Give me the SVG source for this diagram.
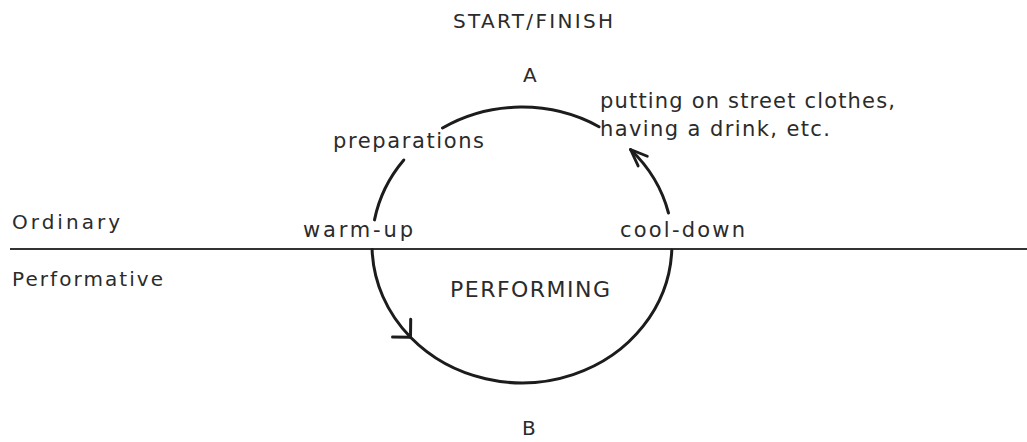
<svg xmlns="http://www.w3.org/2000/svg" width="1027" height="442" viewBox="0 0 1027 442">
<style>
.lbl{font-family:"DejaVu Sans","Liberation Sans",sans-serif;fill:#2b2b2b;font-size:21px}
.arc{fill:none;stroke:#1c1c1c;stroke-width:3;stroke-linecap:round}
.rule{stroke:#333;stroke-width:2}
</style>
<defs>
<marker id="vOpen" markerUnits="userSpaceOnUse" markerWidth="40" markerHeight="40" viewBox="-20 -20 40 40" refX="0" refY="0" orient="auto">
<path d="M -12.7 -12.7 L 0 0 L -12.7 12.7" fill="none" stroke="#1c1c1c" stroke-width="3" stroke-linecap="round" stroke-linejoin="round"/>
</marker>
<marker id="vNarrow" markerUnits="userSpaceOnUse" markerWidth="40" markerHeight="40" viewBox="-25 -20 45 40" refX="0" refY="0" orient="auto">
<path d="M -19 -7.5 L 0 0 L -19 7.5" fill="none" stroke="#1c1c1c" stroke-width="3.2" stroke-linecap="round" stroke-linejoin="round"/>
</marker>
</defs>
<rect width="1027" height="442" fill="#fff"/>
<g id="connectors">
<line class="rule" x1="10" y1="249" x2="1027" y2="249"/>
<path id="arc-top" class="arc" d="M 442.5 128 A 150 138 0 0 1 599 126.7"/>
<path id="arc-left-upper" class="arc" d="M 374.5 219.9 A 150 138 0 0 1 403.8 160"/>
<path id="arc-lower-1" class="arc" d="M 372.1 249.5 A 150 138 0 0 0 410.5 337.3" marker-end="url(#vOpen)"/>
<path id="arc-lower-2" class="arc" d="M 410.5 337.3 A 150 138 0 0 0 671.8 250"/>
<path id="arc-right-upper" class="arc" d="M 668.5 213 A 150 138 0 0 0 630.5 149.5" marker-end="url(#vNarrow)"/>
</g>
<g id="start-finish"><text class="lbl" x="453" y="28" textLength="160" lengthAdjust="spacing" style="font-size:20px">START/FINISH</text></g>
<g id="point-a"><text class="lbl" x="523" y="82" style="font-size:20px">A</text></g>
<g id="after-note">
<text class="lbl" x="600" y="108" textLength="295" lengthAdjust="spacing">putting on street clothes,</text>
<text class="lbl" x="600" y="136" textLength="230" lengthAdjust="spacing">having a drink, etc.</text>
</g>
<g id="preparations"><text class="lbl" x="333" y="148" textLength="151" lengthAdjust="spacing">preparations</text></g>
<g id="ordinary"><text class="lbl" x="12" y="229" textLength="108" lengthAdjust="spacing" style="font-size:20px">Ordinary</text></g>
<g id="warm-up"><text class="lbl" x="303" y="237" textLength="110" lengthAdjust="spacing">warm-up</text></g>
<g id="cool-down"><text class="lbl" x="620" y="237" textLength="125" lengthAdjust="spacing">cool-down</text></g>
<g id="performative"><text class="lbl" x="12" y="286" textLength="151" lengthAdjust="spacing" style="font-size:20px">Performative</text></g>
<g id="performing"><text class="lbl" x="450" y="297" textLength="160" lengthAdjust="spacing" style="font-size:22px">PERFORMING</text></g>
<g id="point-b"><text class="lbl" x="522" y="435" style="font-size:20px">B</text></g>
</svg>
